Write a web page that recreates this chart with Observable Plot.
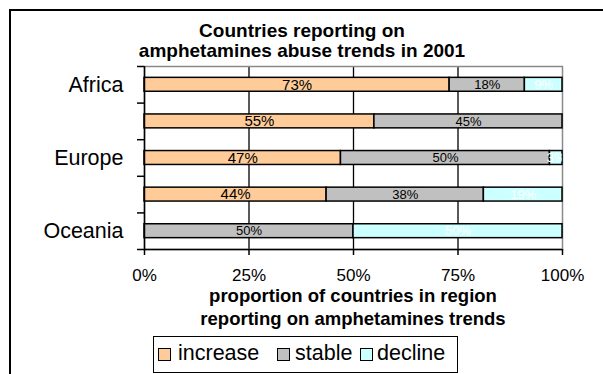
<!DOCTYPE html>
<html>
<head>
<meta charset="utf-8">
<script src="https://cdn.jsdelivr.net/npm/d3@7"></script>
<script src="https://cdn.jsdelivr.net/npm/@observablehq/plot@0.6"></script>
<style>
  html, body { margin: 0; padding: 0; background: #fff; }
  #wrap { position: relative; width: 603px; height: 374px; overflow: hidden; font-family: "Liberation Sans", Arial, sans-serif; }
  #wrap svg { position: absolute; left: 0; top: 0; }
  .t { position: absolute; white-space: nowrap; line-height: 1; color: #000; }
  .bold { font-weight: bold; }
  #frame { position: absolute; left: 9px; top: 9px; width: 700px; height: 500px; border: 2px solid #000; box-sizing: border-box; }
  #legend { position: absolute; left: 153px; top: 336px; width: 305px; height: 37px; border: 1.5px solid #000; box-sizing: border-box; background: #fff; }
  .sw { position: absolute; width: 13px; height: 13px; border: 1.5px solid #000; box-sizing: border-box; }
</style>
</head>
<body>
<div id="wrap">
  <div id="frame"></div>
</div>
<script>
const regions = ["Africa", "Americas", "Europe", "Asia", "Oceania"];
const shownRegions = ["Africa", "Europe", "Oceania"];
const trends = ["increase", "stable", "decline"];
const trendColors = ["#FFCC99", "#C0C0C0", "#CCFFFF"];
const increase = [73, 55, 47, 44, 0];
const stable = [18, 45, 50, 38, 50];
const decline = [9, 0, 3, 19, 50];
const xTicks = [0, 0.25, 0.5, 0.75, 1];
const gridTicks = [0.25, 0.5, 0.75];

const titleLines = ["Countries reporting on", "amphetamines abuse trends in 2001"];
const xTitleLines = ["proportion of countries in region", "reporting on amphetamines trends"];

// build table
const series = {increase, stable, decline};
const rows = [];
regions.forEach((r, i) => {
  const total = trends.reduce((s, t) => s + series[t][i], 0);
  let cum = 0;
  trends.forEach(t => {
    const v = series[t][i];
    rows.push({region: r, idx: i, trend: t, value: v, x1: cum / total, x2: (cum + v) / total});
    cum += v;
  });
});

const barHalf = 0.19;
const boundaries = d3.range(0, regions.length + 1);
const labelPos = regions.map((r, i) => i + 0.5).filter((p, i) => shownRegions.includes(regions[i]));

const chart = Plot.plot({
  width: 603,
  height: 374,
  marginLeft: 144,
  marginRight: 41,
  marginTop: 66,
  marginBottom: 125,
  style: {fontFamily: "Liberation Sans, Arial, sans-serif", background: "transparent", overflow: "visible", color: "#000"},
  x: {domain: [0, 1]},
  y: {domain: [0, regions.length], reverse: true},
  color: {domain: trends, range: trendColors},
  marks: [
    Plot.ruleX(gridTicks, {stroke: "#000", strokeWidth: 1.3}),
    Plot.frame({stroke: "#8a8a8a", strokeWidth: 1.5}),
    Plot.rect(rows.filter(d => d.value > 0), {
      x1: "x1", x2: "x2",
      y1: d => d.idx + 0.5 - barHalf, y2: d => d.idx + 0.5 + barHalf,
      fill: "trend", stroke: "#000", strokeWidth: 1.5, inset: 0
    }),
    Plot.text(rows.filter(d => d.value > 0 && d.trend === "increase"), {
      x: d => (d.x1 + d.x2) / 2, y: d => d.idx + 0.5, text: d => d.value + "%",
      fill: "#000", fontSize: 15, clip: "frame"
    }),
    Plot.text(rows.filter(d => d.value > 0 && d.trend === "stable"), {
      x: d => (d.x1 + d.x2) / 2, y: d => d.idx + 0.5, text: d => d.value + "%",
      fill: "#000", fontSize: 13, clip: "frame"
    }),
    Plot.text(rows.filter(d => d.value > 0 && d.trend === "decline"), {
      x: d => (d.x1 + d.x2) / 2, y: d => d.idx + 0.5, text: d => d.value + "%",
      fill: "#fff", fontSize: 13, clip: "frame"
    }),
    Plot.ruleX([0], {stroke: "#000", strokeWidth: 1.5}),
    Plot.ruleY([regions.length], {stroke: "#000", strokeWidth: 1.5}),
    Plot.axisX({ticks: xTicks, tickFormat: d3.format(".0%"), tickSize: 6, tickPadding: 13, fontSize: 17, label: null, stroke: "#000", strokeWidth: 1.5}),
    Plot.axisY({ticks: boundaries, tickSize: 7, tickFormat: () => "", label: null, stroke: "#000", strokeWidth: 1.5}),
    Plot.axisY({ticks: labelPos, tickSize: 0, tickPadding: 21, fontSize: 21.5, label: null,
      tickFormat: p => regions[Math.floor(p)]})
  ]
});

const wrap = document.getElementById("wrap");
wrap.appendChild(chart);

function addText(txt, cx, baseline, size, bold) {
  const d = document.createElement("div");
  d.className = "t" + (bold ? " bold" : "");
  d.textContent = txt;
  d.style.fontSize = size + "px";
  d.style.top = (baseline - 0.85 * size) + "px";
  d.style.left = cx + "px";
  d.style.transform = "translateX(-50%)";
  wrap.appendChild(d);
}
addText(titleLines[0], 302, 36.7, 19, true);
addText(titleLines[1], 302, 57.5, 19, true);
addText(xTitleLines[0], 353, 303, 18.5, true);
addText(xTitleLines[1], 353, 325.5, 18.5, true);

// legend
const legend = document.createElement("div");
legend.id = "legend";
wrap.appendChild(legend);
const swLeft = [4, 123, 206];
const txLeft = [24, 141, 223];
trends.forEach((t, i) => {
  const s = document.createElement("div");
  s.className = "sw";
  s.style.left = swLeft[i] + "px";
  s.style.top = "11px";
  s.style.background = trendColors[i];
  legend.appendChild(s);
  const l = document.createElement("div");
  l.className = "t";
  l.textContent = t;
  l.style.fontSize = "21.5px";
  l.style.left = txLeft[i] + "px";
  l.style.top = (24 - 0.85 * 21.5) + "px";
  legend.appendChild(l);
});
</script>
</body>
</html>
